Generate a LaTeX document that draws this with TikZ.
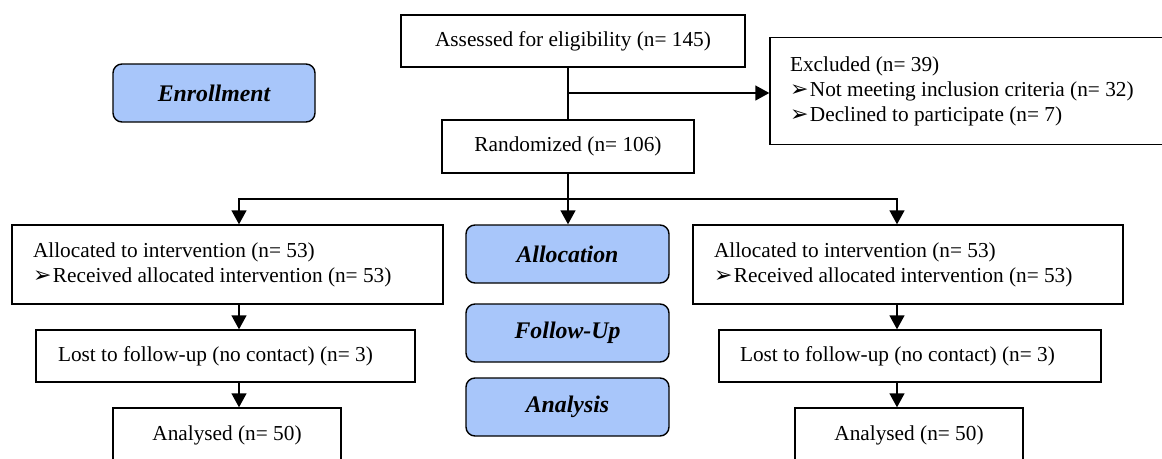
\documentclass[tikz,border=0pt]{standalone}
\usepackage{fontspec}
\setmainfont{Liberation Serif}
\newfontfamily\dvfont{DejaVu Sans}
\usetikzlibrary{arrows.meta}
\definecolor{phase}{RGB}{168,198,250}
\newcommand{\blt}{{\dvfont\fontsize{22}{25}\selectfont ➢}\hspace{1.5pt}}
\newcommand{\nsp}{\spaceskip=0pt\xspaceskip=0pt\relax}
\tikzset{
  box/.style={draw, line width=1.4pt, fill=white, inner sep=0pt, font=\fontsize{21.3}{25}\selectfont},
  lbox/.style={box, align=left, inner ysep=0pt},
  phasebox/.style={draw, line width=1.4pt, fill=phase, rounded corners=9pt, inner sep=0pt,
     minimum width=203pt, minimum height=58pt, font=\fontsize{23.8}{25}\selectfont\bfseries\itshape},
  arr/.style={line width=1.4pt, -{Triangle[length=14pt,width=15pt]}},
  ln/.style={line width=1.4pt}
}
\begin{document}
\begin{tikzpicture}[x=1pt,y=-1pt]
\clip (0,0) rectangle (1162,458);
\fill[white] (0,0) rectangle (1162,458);

\node[box, minimum width=344pt, minimum height=52pt] (assess) at (573,41) {Assessed for eligibility (n= 145)};
\node[box, minimum width=252pt, minimum height=53pt] (rand) at (568,146.5) {Randomized (n= 106)};
\node[lbox, text width=362pt, inner xsep=20pt, minimum height=107pt] (excl) at (971,91)
  {\nsp Excluded (n= 39)\\ \blt Not meeting inclusion criteria (n= 32)\\ \blt Declined to participate (n= 7)};

\node[phasebox, minimum width=202pt] (enroll) at (214,93) {Enrollment};
\node[phasebox] (allocph) at (567.5,254) {Allocation};
\node[phasebox] (follow) at (567.5,333) {Follow-Up};
\node[phasebox] (analysis) at (567.5,407) {Analysis};

\node[lbox, text width=389pt, inner xsep=21pt, minimum height=79pt] (allocL) at (227.5,264.5)
  {\nsp Allocated to intervention (n= 53)\\ \blt Received allocated intervention (n= 53)};
\node[lbox, text width=335pt, inner xsep=22pt, minimum height=52pt] (lostL) at (225.5,356)
  {\nsp Lost to follow-up (no contact) (n= 3)};
\node[box, minimum width=228pt, minimum height=54pt] (anaL) at (227,435) {Analysed (n= 50)};

\node[lbox, text width=388pt, inner xsep=21pt, minimum height=79pt] (allocR) at (908,264.5)
  {\nsp Allocated to intervention (n= 53)\\ \blt Received allocated intervention (n= 53)};
\node[lbox, text width=340pt, inner xsep=21pt, minimum height=52pt] (lostR) at (910,356)
  {\nsp Lost to follow-up (no contact) (n= 3)};
\node[box, minimum width=228pt, minimum height=54pt] (anaR) at (909,435) {Analysed (n= 50)};

\coordinate (cl) at (239,0);
\coordinate (cr) at (897,0);
\coordinate (br) at (568,93);
\coordinate (sp) at (568,199);

\draw[ln] (assess.south -| rand.north) -- (rand.north);
\draw[arr] (br) -- (excl.west |- br);
\draw[arr] (rand.south) -- (allocph.north -| rand.south);
\draw[arr] (sp) -| (allocL.north -| cl);
\draw[arr] (sp) -| (allocR.north -| cr);
\draw[arr] (allocL.south -| cl) -- (lostL.north -| cl);
\draw[arr] (lostL.south -| cl) -- (anaL.north -| cl);
\draw[arr] (allocR.south -| cr) -- (lostR.north -| cr);
\draw[arr] (lostR.south -| cr) -- (anaR.north -| cr);
\end{tikzpicture}
\end{document}
